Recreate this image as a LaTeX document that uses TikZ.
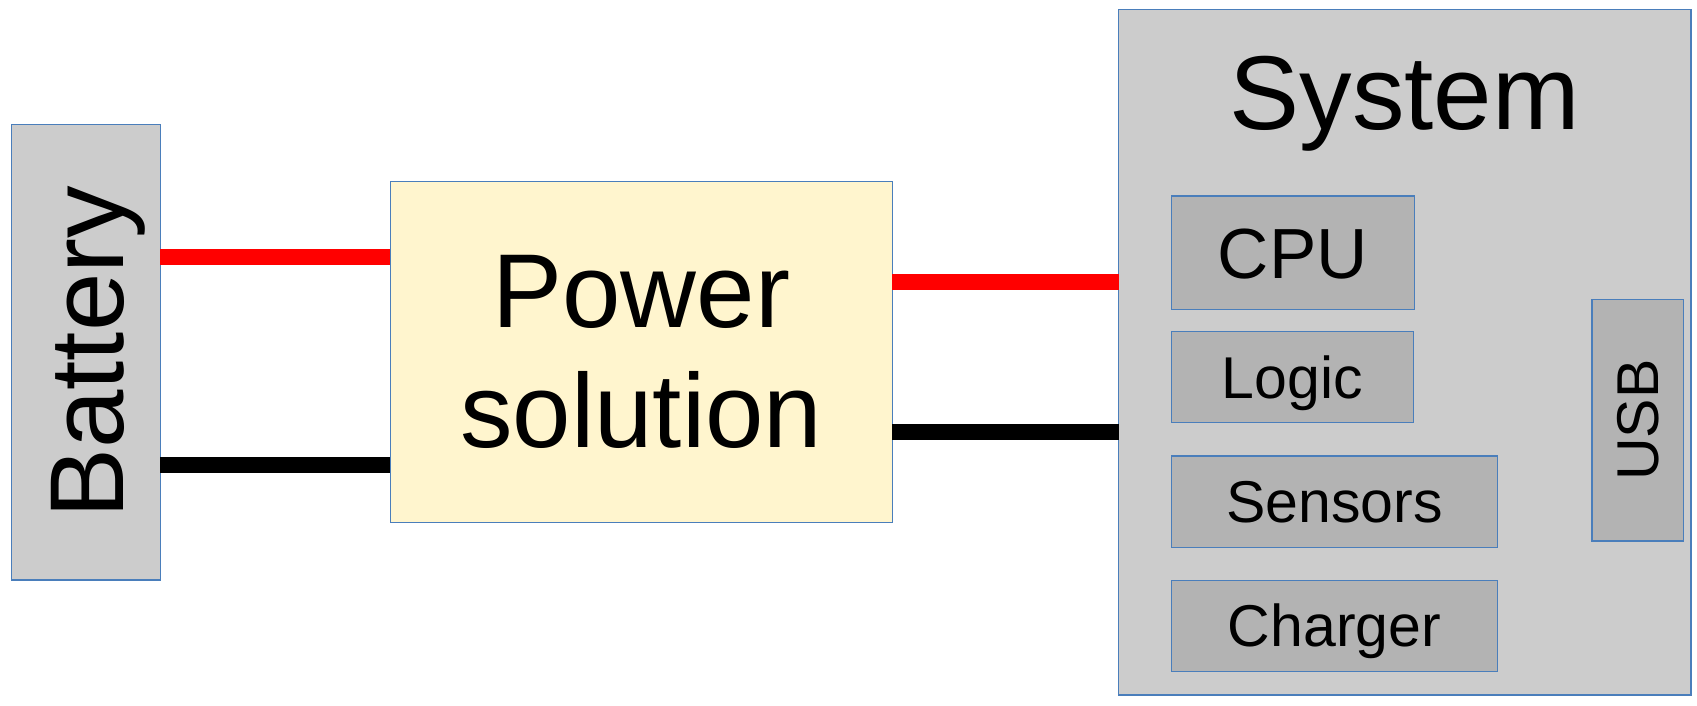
\documentclass[tikz,border=0pt]{standalone}
\usepackage{fontspec}
\setmainfont{Liberation Sans}
\definecolor{bord}{HTML}{4A7EBB}
\definecolor{outerfill}{HTML}{CCCCCC}
\definecolor{innerfill}{HTML}{B3B3B3}
\definecolor{powfill}{HTML}{FFF5CE}
\begin{document}
\begin{tikzpicture}[x=1pt,y=-1pt,
  box/.style={draw=bord, line width=1.4pt, inner sep=0pt, outer sep=0pt},
  outerbox/.style={box, fill=outerfill},
  bigtext/.style={font=\fontsize{105}{120}\selectfont},
  innerbox/.style={box, fill=innerfill, font=\fontsize{59}{68}\selectfont,
                   text height=42.3pt, text depth=0pt},
  wire/.style={line width=16pt}]
\useasboundingbox (0,0) rectangle (1697,706);
% Battery
\node[outerbox, rotate=90, minimum width=455pt, minimum height=149pt,
      bigtext, text height=75.2pt, text depth=0pt] (bat) at (85.8,352.3) {Battery};
% Power solution
\node[box, fill=powfill, minimum width=502pt, minimum height=341.4pt,
      align=center, bigtext] (pow) at (641.3,352) {Power\\solution};
% System
\node[outerbox, minimum width=572.5pt, minimum height=685.3pt] (sys) at (1404.75,352.35) {};
\node[bigtext, anchor=base, inner sep=0pt] (systitle) at (1404.75,130) {System};
\node[innerbox, minimum width=243pt, minimum height=113.5pt,
      font=\fontsize{71}{80}\selectfont, text height=50.8pt] (cpu) at (1292.8,252.75) {CPU};
\node[innerbox, minimum width=242pt, minimum height=91pt] (logic) at (1292.3,377.2) {Logic};
\node[innerbox, minimum width=326.4pt, minimum height=91.3pt] (sensors) at (1334.5,501.65) {Sensors};
\node[innerbox, minimum width=326.4pt, minimum height=91pt] (charger) at (1334.5,625.8) {Charger};
\node[innerbox, rotate=90, minimum width=241.7pt, minimum height=91.3pt] (usb) at (1637.65,420.15) {USB};
% Wires
\draw[wire, red] (bat.south |- 0,257) -- (pow.west |- 0,257);
\draw[wire, black] (bat.south |- 0,465) -- (pow.west |- 0,465);
\draw[wire, red] (pow.east |- 0,282) -- (sys.west |- 0,282);
\draw[wire, black] (pow.east |- 0,432) -- (sys.west |- 0,432);
\end{tikzpicture}
\end{document}
